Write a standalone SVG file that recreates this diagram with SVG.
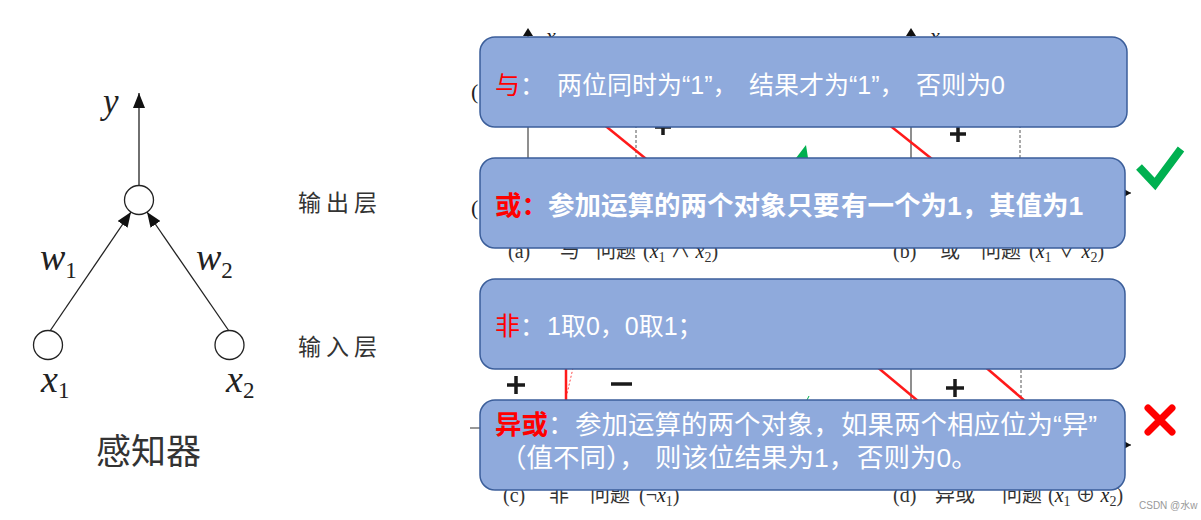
<svg xmlns="http://www.w3.org/2000/svg" width="1201" height="520" viewBox="0 0 1201 520">
<style>
.math{font-family:"Liberation Serif","DejaVu Serif",serif;font-style:italic;fill:#222}
.sub{font-family:"Liberation Serif","DejaVu Serif",serif;font-style:normal;fill:#222}
.cn{font-family:"Noto Sans CJK SC",sans-serif;fill:#333}
.cap{font-family:"Liberation Serif","Noto Sans CJK SC",serif;font-size:20px;fill:#333}
.axis{stroke:#333;stroke-width:1.1;fill:none}
.dash{stroke:#555;stroke-width:1;stroke-dasharray:3,2;fill:none}
.red{stroke:#FF1A1A;stroke-width:2.5;fill:none}
.sign{stroke:#1a1a1a;stroke-width:3.5;fill:none}
.box{fill:#8FAADC;stroke:#3B5E9A;stroke-width:1.5}
.bt{font-family:"Liberation Sans","Noto Sans CJK SC",sans-serif;fill:#FFFFFF}
.kw{fill:#FF0000}
.edge{stroke:#222;stroke-width:1.3;fill:none}
.neuron{fill:#fff;stroke:#222;stroke-width:1.3}
</style>
<defs>
<marker id="arr" markerUnits="userSpaceOnUse" markerWidth="16" markerHeight="12" refX="15" refY="6" orient="auto">
<path d="M0,0 L15,6 L0,12 z" fill="#111"/>
</marker>
<marker id="tri" markerUnits="userSpaceOnUse" markerWidth="9" markerHeight="10" refX="8" refY="4.5" orient="auto">
<path d="M0,0 L8,4.5 L0,9 z" fill="#111"/>
</marker>
</defs>
<rect width="1201" height="520" fill="#fff"/>

<!-- Perceptron -->
<g id="perceptron">
<g id="connectors">
<line class="edge" x1="139" y1="185.5" x2="139" y2="93" marker-end="url(#arr)"/>
<line class="edge" x1="50" y1="331" x2="131" y2="212" marker-end="url(#arr)"/>
<line class="edge" x1="229" y1="331" x2="147" y2="212" marker-end="url(#arr)"/>
</g>
<g id="node-output"><circle class="neuron" cx="139" cy="200" r="14.5"/></g>
<g id="node-x1"><circle class="neuron" cx="48" cy="345" r="14.5"/></g>
<g id="node-x2"><circle class="neuron" cx="229.5" cy="345" r="14.5"/></g>
<text class="math" x="103" y="113" font-size="35">y</text>
<text class="math" x="40" y="270" font-size="38">w<tspan class="sub" font-size="23" dy="8">1</tspan></text>
<text class="math" x="196" y="270" font-size="38">w<tspan class="sub" font-size="23" dy="8">2</tspan></text>
<text class="math" x="41" y="392" font-size="38">x<tspan class="sub" font-size="23" dy="6">1</tspan></text>
<text class="math" x="226" y="392" font-size="38">x<tspan class="sub" font-size="23" dy="6">2</tspan></text>
<text class="cn" x="298" y="211" font-size="23" letter-spacing="5">输出层</text>
<text class="cn" x="298" y="355" font-size="23" letter-spacing="5">输入层</text>
<text class="cn" x="96" y="464" font-size="35" fill="#111">感知器</text>
</g>

<!-- Background charts (partially covered) -->
<g id="charts">
<line class="axis" x1="528" y1="36" x2="528" y2="200"/>
<line class="axis" x1="911" y1="36" x2="911" y2="193"/>
<line class="axis" x1="911" y1="193" x2="1131" y2="193" marker-end="url(#tri)"/>
<path d="M906,36 L911,28 L916,36 z" fill="#111"/>
<path d="M523,36 L528,28 L533,36 z" fill="#111"/>
<text class="math" x="546" y="43" font-size="22">x<tspan class="sub" font-size="14" dy="5">2</tspan></text>
<text class="math" x="930" y="43" font-size="22">x<tspan class="sub" font-size="14" dy="5">2</tspan></text>
<text class="sub" x="471" y="99" font-size="22">(</text>
<text class="sub" x="471" y="215" font-size="22">(</text>
<line class="dash" x1="636" y1="40" x2="636" y2="200"/>
<line class="dash" x1="1020" y1="40" x2="1020" y2="200"/>
<line class="red" x1="597" y1="119" x2="656" y2="167"/>
<line class="red" x1="883" y1="120" x2="942" y2="167"/>
<path class="sign" d="M663,119 V135 M655,127 H671"/>
<path class="sign" d="M958,126 V142 M950,134 H966"/>
<path d="M796,158 L806,145 L808,158 z" fill="#00B050"/>

<text class="cap" x="508" y="258">(a)<tspan x="560">与</tspan><tspan x="596">问题</tspan><tspan x="643">(</tspan><tspan class="math">x</tspan><tspan font-size="14" dy="4">1</tspan><tspan dy="-4"> ∧ </tspan><tspan class="math">x</tspan><tspan font-size="14" dy="4">2</tspan><tspan dy="-4">)</tspan></text>
<text class="cap" x="893" y="258">(b)<tspan x="940">或</tspan><tspan x="981">问题</tspan><tspan x="1029">(</tspan><tspan class="math">x</tspan><tspan font-size="14" dy="4">1</tspan><tspan dy="-4"> ∨ </tspan><tspan class="math">x</tspan><tspan font-size="14" dy="4">2</tspan><tspan dy="-4">)</tspan></text>

<path class="sign" d="M516,376 V394 M507,385 H525"/>
<path class="sign" d="M611,384 H632"/>
<line x1="566" y1="365" x2="566" y2="402" stroke="#FF1A1A" stroke-width="2.5"/>
<line x1="573" y1="368" x2="567" y2="394" stroke="#FF1A1A" stroke-width="0.8" stroke-dasharray="2,2"/>
<line x1="807" y1="400" x2="809" y2="396" stroke="#00B050" stroke-width="1"/>
<line class="axis" x1="911" y1="365" x2="911" y2="402"/>
<line class="dash" x1="1021" y1="365" x2="1021" y2="402"/>
<line class="red" x1="876" y1="366" x2="918" y2="401"/>
<line class="red" x1="983" y1="365" x2="1025" y2="401"/>
<path class="sign" d="M955,379 V397 M946,388 H964"/>
<line class="axis" x1="470" y1="428" x2="560" y2="428"/>
<line class="axis" x1="1000" y1="445" x2="1131" y2="445" marker-end="url(#tri)"/>

<text class="cap" x="503" y="502">(c)<tspan x="549">非</tspan><tspan x="590">问题</tspan><tspan x="639">(¬</tspan><tspan class="math">x</tspan><tspan font-size="14" dy="4">1</tspan><tspan dy="-4">)</tspan></text>
<text class="cap" x="893" y="502">(d)<tspan x="935">异或</tspan><tspan x="1002">问题</tspan><tspan x="1048">(</tspan><tspan class="math">x</tspan><tspan font-size="14" dy="4">1</tspan><tspan dy="-4"> ⊕ </tspan><tspan class="math">x</tspan><tspan font-size="14" dy="4">2</tspan><tspan dy="-4">)</tspan></text>
<text x="1139" y="509" font-family="Liberation Sans,Noto Sans CJK SC,sans-serif" font-size="10" fill="#999">CSDN @水w</text>
</g>

<!-- Boxes -->
<g id="box-and">
<rect class="box" x="480" y="37" width="647" height="90" rx="15"/>
<text class="bt" y="94" font-size="25"><tspan class="kw" x="495">与</tspan><tspan>：</tspan><tspan x="557">两位同时为“1”，</tspan><tspan x="749">结果才为“1”，</tspan><tspan x="916">否则为0</tspan></text>
</g>
<g id="box-or">
<rect class="box" x="480" y="158" width="645" height="90" rx="15"/>
<text class="bt" y="215" font-size="26.5" font-weight="bold"><tspan class="kw" x="495">或：</tspan><tspan x="548">参加运算的两个对象只要</tspan><tspan x="841">有一个为1，</tspan><tspan x="989">其值为1</tspan></text>
</g>
<g id="box-not">
<rect class="box" x="480" y="279" width="645" height="90" rx="15"/>
<text class="bt" y="335" font-size="25"><tspan class="kw" x="495">非</tspan><tspan>：</tspan><tspan x="547">1取0，0取1；</tspan></text>
</g>
<g id="box-xor">
<rect class="box" x="480" y="400" width="645" height="90" rx="15"/>
<text class="bt" y="434" font-size="26.5"><tspan class="kw" x="495" font-weight="bold">异或</tspan><tspan>：</tspan><tspan x="575">参加运算的两个对象，</tspan><tspan x="841">如果两个相应位为“异”</tspan></text>
<text class="bt" y="467" font-size="26.5"><tspan x="500">（值不同），</tspan><tspan x="655">则该位结果为1，</tspan><tspan x="857">否则为0。</tspan></text>
</g>

<!-- Marks -->
<g id="mark-check"><polyline points="1139,167 1155,184 1181,149" fill="none" stroke="#00B050" stroke-width="8"/></g>
<g id="mark-cross"><path d="M1148,408 L1172,432 M1172,408 L1148,432" stroke="#FF0000" stroke-width="7" stroke-linecap="round" fill="none"/></g>
</svg>
